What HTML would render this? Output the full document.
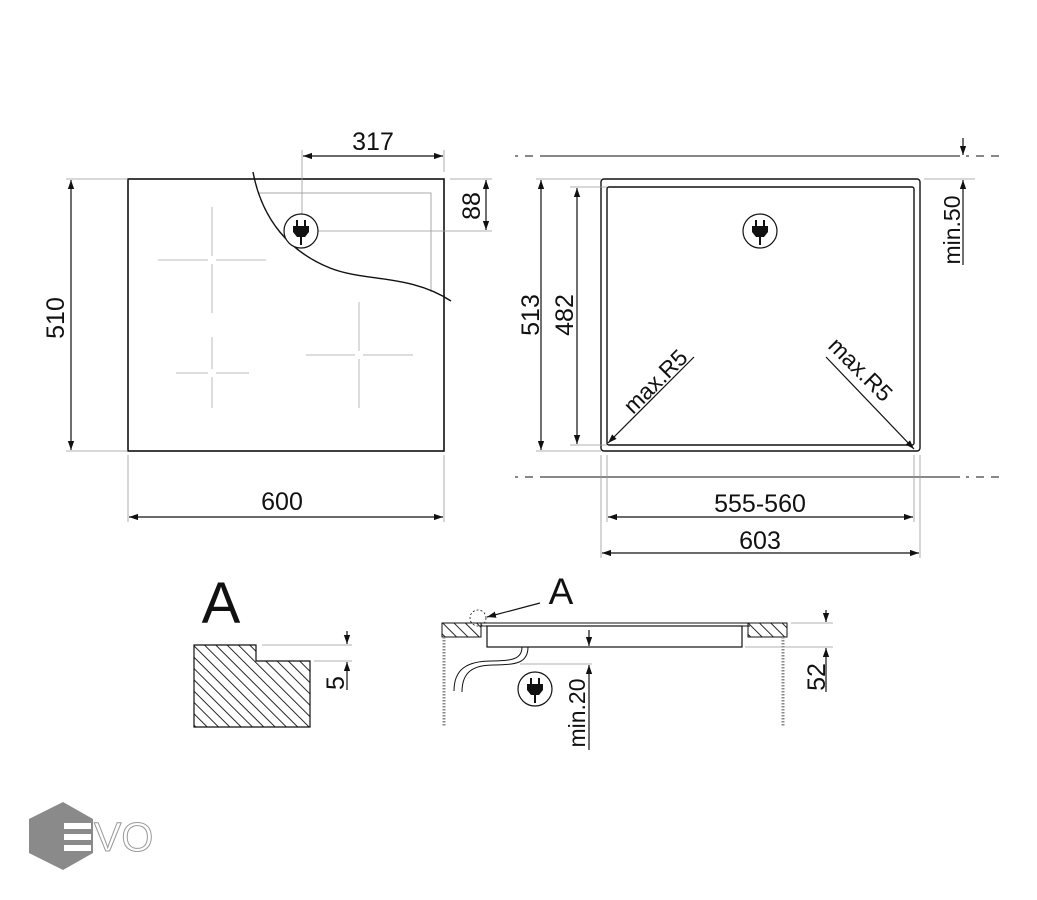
<!DOCTYPE html>
<html><head><meta charset="utf-8"><style>body{margin:0;background:#fff}svg{display:block}text{font-family:"Liberation Sans",sans-serif;fill:#111}</style></head><body>
<svg width="1037" height="900" viewBox="0 0 1037 900" xmlns="http://www.w3.org/2000/svg">
<defs>
<marker id="a" viewBox="0 0 10 10" refX="10" refY="5" markerWidth="9" markerHeight="9" orient="auto-start-reverse" markerUnits="userSpaceOnUse"><path d="M0,1.5L10,5L0,8.5z" fill="#111"/></marker>
<pattern id="h" width="8" height="8" patternUnits="userSpaceOnUse" patternTransform="rotate(-45)"><line x1="0" y1="0" x2="0" y2="8" stroke="#111" stroke-width="1.8"/></pattern>
<g id="plug"><circle r="17" fill="#fff" stroke="#111" stroke-width="1.2"/><path d="M-4,-11v6M4,-11v6" stroke="#111" stroke-width="2"/><path d="M-8,-5h16v6l-4,5h-8l-4,-5z" fill="#111"/><path d="M0,5v9" stroke="#111" stroke-width="2"/></g>
</defs>
<g fill="none" stroke-linecap="butt">
<rect x="128" y="179" width="316" height="272" stroke="#111" stroke-width="1.6"/>
<path d="M258,193H431V292" stroke="#aaa" stroke-width="1"/>
<path d="M158,260h50M216,260h50M212,207v49M212,264v49M176,373h32M216,373h33M212,337v32M212,377v31M306,355h49M363,355h50M359,302v49M359,359v49" stroke="#bbb" stroke-width="1"/>
<path d="M253,172C262,220 290,252 330,268C365,282 410,274 451,301" stroke="#111" stroke-width="1.4"/>
<g stroke="#999" stroke-width="0.8">
<path d="M66,179H128M66,451H128M128,455V522M444,455V522M302,150V231M444,150V172M450,179H492M318,231H492"/>
</g>
<g stroke="#111" stroke-width="1.2">
<path d="M71,180V450" marker-start="url(#a)" marker-end="url(#a)"/>
<path d="M129,517H443" marker-start="url(#a)" marker-end="url(#a)"/>
<path d="M303,156H443" marker-start="url(#a)" marker-end="url(#a)"/>
<path d="M486,180V230" marker-start="url(#a)" marker-end="url(#a)"/>
</g>
<path d="M515,156h3M525,156h8M540,156H960M966,156h3M976,156h8M991,156h8" stroke="#111" stroke-width="1"/>
<path d="M515,477h3M525,477h8M540,477H960M966,477h3M976,477h8M991,477h8" stroke="#111" stroke-width="1"/>
<rect x="601" y="179" width="319" height="272" rx="3" stroke="#111" stroke-width="1.4"/>
<rect x="607" y="187" width="307" height="258" rx="2" stroke="#111" stroke-width="1.4"/>
<g stroke="#999" stroke-width="0.8">
<path d="M536,179H601M570,187H607M536,451H601M570,445H607M924,179H975M601,455V558M607,455V522M914,455V522M920,455V558"/>
</g>
<g stroke="#111" stroke-width="1.2">
<path d="M541,180V450" marker-start="url(#a)" marker-end="url(#a)"/>
<path d="M577,188V444" marker-start="url(#a)" marker-end="url(#a)"/>
<path d="M963,138V155" marker-end="url(#a)"/>
<path d="M963,265V180" marker-end="url(#a)"/>
<path d="M694,357L608,443" marker-end="url(#a)"/>
<path d="M826,357L914,449" marker-end="url(#a)"/>
<path d="M608,517H913" marker-start="url(#a)" marker-end="url(#a)"/>
<path d="M602,553H919" marker-start="url(#a)" marker-end="url(#a)"/>
</g>
<path d="M194,645H256V661H310V727H194Z" fill="url(#h)" stroke="#111" stroke-width="1.2"/>
<path d="M262,645H352M314,661H352" stroke="#999" stroke-width="0.8"/>
<g stroke="#111" stroke-width="1.2">
<path d="M347,631V644" marker-end="url(#a)"/>
<path d="M347,690V662" marker-end="url(#a)"/>
</g>
<rect x="442" y="623" width="39" height="14" fill="url(#h)" stroke="#111" stroke-width="1"/>
<rect x="748" y="623" width="39" height="14" fill="url(#h)" stroke="#111" stroke-width="1"/>
<path d="M444,637V727M783,637V727" stroke="#888" stroke-width="3" stroke-dasharray="1.5 1.5"/>
<path d="M481,623H750M481,626H750" stroke="#111" stroke-width="1"/>
<rect x="487" y="626" width="255" height="21" stroke="#111" stroke-width="1.2"/>
<path d="M522,647c0,12 -10,14 -30,14c-25,0 -38,8 -38,30M528,647c0,16 -12,18 -34,18c-20,0 -32,6 -32,27" stroke="#111" stroke-width="1"/>
<circle cx="478" cy="618" r="8" stroke="#111" stroke-width="0.8" stroke-dasharray="2 2"/>
<path d="M540,603L487,617" stroke="#111" stroke-width="1.2" marker-end="url(#a)"/>
<path d="M520,664H592M791,623H833M745,647H833" stroke="#999" stroke-width="0.8"/>
<g stroke="#111" stroke-width="1.2">
<path d="M589,630V646" marker-end="url(#a)"/>
<path d="M589,750V665" marker-end="url(#a)"/>
<path d="M826,610V622" marker-end="url(#a)"/>
<path d="M826,692V648" marker-end="url(#a)"/>
</g>
</g>
<use href="#plug" x="301" y="231"/>
<use href="#plug" x="760" y="231"/>
<use href="#plug" x="535" y="689"/>
<text x="373" y="150" font-size="25" text-anchor="middle">317</text>
<text x="282" y="510" font-size="25" text-anchor="middle">600</text>
<text transform="translate(64,318) rotate(-90)" font-size="25" text-anchor="middle">510</text>
<text transform="translate(480,206) rotate(-90)" font-size="25" text-anchor="middle">88</text>
<text transform="translate(539,315) rotate(-90)" font-size="25" text-anchor="middle">513</text>
<text transform="translate(573,315) rotate(-90)" font-size="25" text-anchor="middle">482</text>
<text transform="translate(960,230) rotate(-90)" font-size="23" text-anchor="middle">min.50</text>
<text transform="translate(661,387) rotate(-45)" font-size="23" text-anchor="middle">max.R5</text>
<text transform="translate(855,375) rotate(45)" font-size="23" text-anchor="middle">max.R5</text>
<text x="760" y="512" font-size="25" text-anchor="middle">555-560</text>
<text x="760" y="549" font-size="25" text-anchor="middle">603</text>
<text x="221" y="623" font-size="58" text-anchor="middle">A</text>
<text x="561" y="604" font-size="37" text-anchor="middle">A</text>
<text transform="translate(344,683) rotate(-90)" font-size="25" text-anchor="middle">5</text>
<text transform="translate(585,713) rotate(-90)" font-size="23" text-anchor="middle">min.20</text>
<text transform="translate(825,677) rotate(-90)" font-size="25" text-anchor="middle">52</text>
<polygon points="63,802 93,819 93,853 63,870 29,853 29,819" fill="#8a8a8a"/>
<path d="M64,823h27v6h-27zM64,834h27v6h-27zM64,845h27v6h-27z" fill="#fff"/>
<text x="94" y="851" font-size="41" style="fill:#fff;stroke:#999;stroke-width:1">VO</text>
</svg>
</body></html>
